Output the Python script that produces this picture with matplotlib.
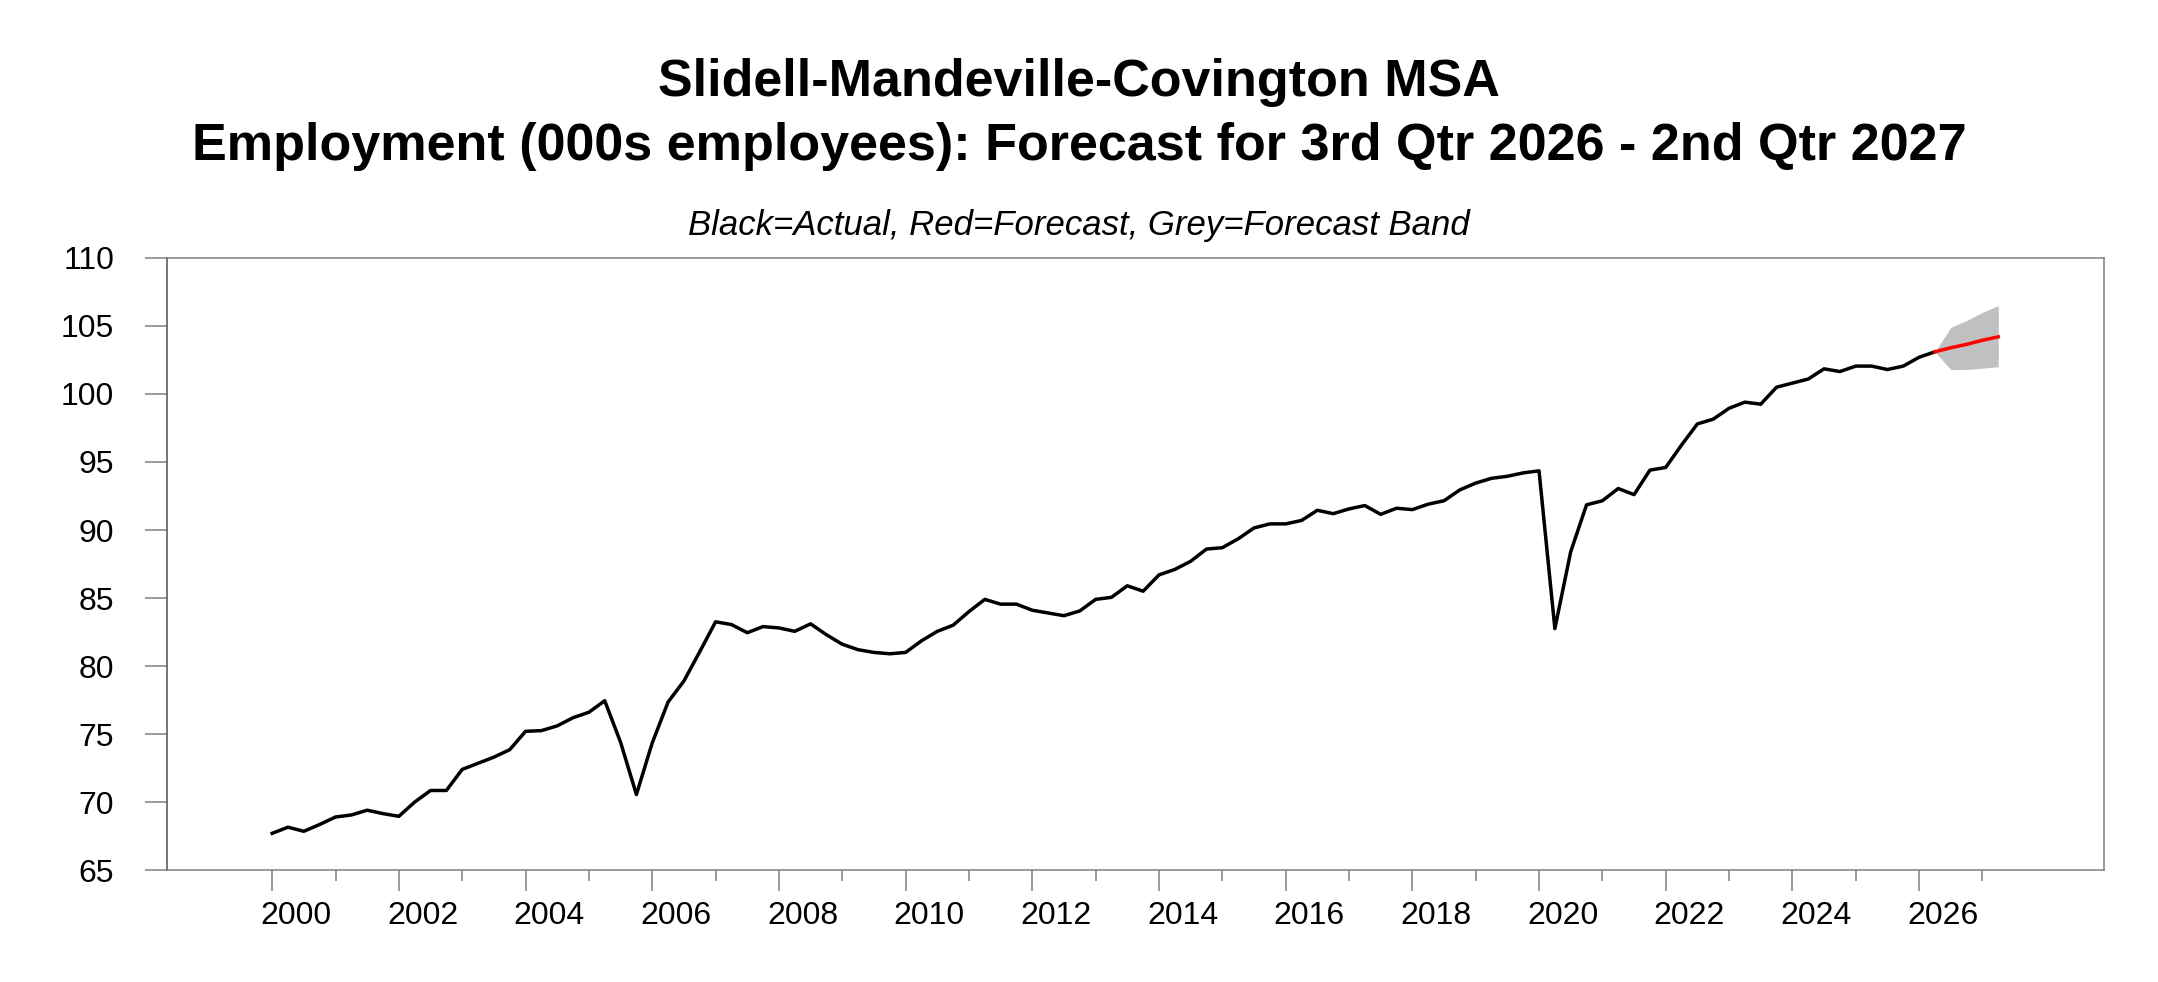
import matplotlib
matplotlib.use("Agg")
import matplotlib.pyplot as plt
import numpy as np

plt.rcParams['font.family'] = ['Liberation Sans', 'DejaVu Sans']

# quarterly employment, 2000Q1 .. 2026Q2 (000s)
start_year = 2000
actual = [67.7, 68.15, 67.85, 68.35,   # 2000
          68.9, 69.05, 69.4, 69.15,    # 2001
          68.95, 70.0, 70.85, 70.85,   # 2002
          72.4, 72.85, 73.3, 73.85,    # 2003
          75.2, 75.25, 75.6, 76.2,     # 2004
          76.6, 77.45, 74.4, 70.55,    # 2005
          74.35, 77.35, 78.9, 81.05,   # 2006
          83.25, 83.05, 82.45, 82.9,   # 2007
          82.8, 82.55, 83.1, 82.3,     # 2008
          81.6, 81.2, 81.0, 80.9,      # 2009
          81.0, 81.85, 82.55, 83.0,    # 2010
          84.0, 84.9, 84.55, 84.55,    # 2011
          84.1, 83.9, 83.7, 84.05,     # 2012
          84.9, 85.05, 85.9, 85.5,     # 2013
          86.7, 87.1, 87.7, 88.6,      # 2014
          88.7, 89.35, 90.15, 90.45,   # 2015
          90.45, 90.7, 91.45, 91.2,    # 2016
          91.55, 91.8, 91.15, 91.6,    # 2017
          91.5, 91.9, 92.15, 92.95,    # 2018
          93.45, 93.8, 93.95, 94.2,    # 2019
          94.35, 82.75, 88.4, 91.85,   # 2020
          92.15, 93.05, 92.6, 94.4,    # 2021
          94.6, 96.25, 97.8, 98.15,    # 2022
          98.95, 99.4, 99.25, 100.5,   # 2023
          100.8, 101.1, 101.85, 101.65,  # 2024
          102.05, 102.05, 101.8, 102.05,  # 2025
          102.7, 103.1]                # 2026

# forecast 2026Q2 (last actual) .. 2027Q2
forecast = [103.1, 103.4, 103.65, 103.95, 104.2]
band_hi = [103.1, 104.9, 105.4, 106.0, 106.5]
band_lo = [103.1, 101.8, 101.8, 101.9, 102.0]

year_ticks = list(range(2000, 2028))
year_labels = [str(y) for y in range(2000, 2028, 2)]
y_ticks = [65, 70, 75, 80, 85, 90, 95, 100, 105, 110]

title1 = "Slidell-Mandeville-Covington MSA"
title2 = "Employment (000s employees): Forecast for 3rd Qtr 2026 - 2nd Qtr 2027"
subtitle = "Black=Actual, Red=Forecast, Grey=Forecast Band"

x_act = start_year + np.arange(len(actual)) / 4.0
x_fc = x_act[-1] + np.arange(len(forecast)) / 4.0

fig = plt.figure(figsize=(21.58, 9.82), dpi=100)
ax = fig.add_axes([0.0774, 0.114, 0.8976, 0.6233])

ax.fill_between(x_fc, band_lo, band_hi, color='#c0c0c0', lw=0)
ax.plot(x_act, actual, color='black', lw=2.5)
ax.plot(x_fc, forecast, color='red', lw=2.5)

ax.set_xlim(1998.34, 2028.92)
ax.set_ylim(65, 110)
ax.set_yticks(y_ticks)
ax.set_yticklabels([str(v) for v in y_ticks], fontsize=23)

ax.set_xticks([y for y in year_ticks if y % 2 == 0])
ax.set_xticklabels([])
ax.set_xticks([y for y in year_ticks if y % 2 == 1], minor=True)
ax.tick_params(axis='x', which='major', length=15, width=1.1, color='#808080', direction='out')
ax.tick_params(axis='x', which='minor', length=8, width=1.1, color='#808080', direction='out')
ax.tick_params(axis='y', length=16, width=1.1, color='#808080', pad=22, direction='out')

# year labels sit in the middle of the four quarters
for lab in year_labels:
    ax.text(int(lab) + 0.375, -0.088, lab, transform=ax.get_xaxis_transform(),
            ha='center', va='baseline', fontsize=23)

for s in ax.spines.values():
    s.set_color('#808080')
    s.set_linewidth(1.1)
ax.spines['left'].set_color('#505050')

fig.text(0.5, 0.9026, title1, ha='center', va='baseline', fontsize=37.5, fontweight='bold')
fig.text(0.5, 0.8370, title2, ha='center', va='baseline', fontsize=37.5, fontweight='bold')
fig.text(0.5, 0.7607, subtitle, ha='center', va='baseline', fontsize=25, style='italic')

fig.savefig('out.png', dpi=100)
